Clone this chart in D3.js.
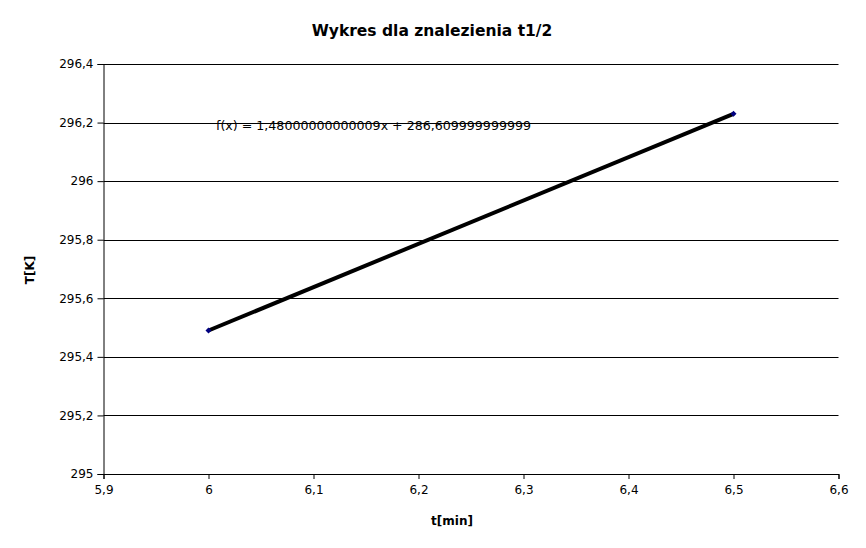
<!DOCTYPE html>
<html><head><meta charset="utf-8">
<script src="https://cdn.jsdelivr.net/npm/d3@7"></script>
<style>body{margin:0;background:#fff}svg{display:block}text{font-family:"DejaVu Sans",sans-serif}</style>
</head><body>
<script>
const xValues = [6, 6.5];
const yValues = [295.49, 296.23];
const xTicks = [5.9, 6, 6.1, 6.2, 6.3, 6.4, 6.5, 6.6];
const yTicks = [295, 295.2, 295.4, 295.6, 295.8, 296, 296.2, 296.4];
const slope = 1.48000000000009, intercept = 286.609999999999;
const titleText = "Wykres dla znalezienia t1/2";
const xLabel = "t[min]", yLabel = "T[K]";
const eqText = "f(x) = 1,48000000000009x + 286,609999999999";

const W = 866, H = 548;
const m = {l:103.5, r:838.5, t:64, b:474};
const svg = d3.select("body").append("svg").attr("width", W).attr("height", H);
const x = d3.scaleLinear().domain([5.9, 6.6]).range([m.l, m.r]);
const y = d3.scaleLinear().domain([295, 296.4]).range([m.b, m.t]);
const fmt = d => String(+d.toFixed(1)).replace(".", ",");

// gridlines
svg.append("g").selectAll("line").data(yTicks.slice(1)).join("line")
  .attr("x1", m.l).attr("x2", m.r).attr("y1", d => Math.round(y(d))+0.5).attr("y2", d => Math.round(y(d))+0.5)
  .attr("stroke", "#000").attr("stroke-width", 1);

const ya = svg.append("g").attr("transform", `translate(${m.l},0)`)
  .call(d3.axisLeft(y).tickValues(yTicks).tickFormat(fmt).tickSize(6).tickPadding(4).offset(0.5));
const xa = svg.append("g").attr("transform", `translate(0,${m.b})`)
  .call(d3.axisBottom(x).tickValues(xTicks).tickFormat(fmt).tickSize(5).tickPadding(6).offset(0.5));
[ya, xa].forEach(a => {
  a.select(".domain").attr("stroke", "#000");
  a.selectAll("line").attr("stroke", "#000");
  a.selectAll("text").attr("font-size", 12).attr("fill", "#000").attr("font-family", "DejaVu Sans");
});

// series line (thin navy) and trendline
const pts = xValues.map((v, i) => [v, yValues[i]]);
svg.append("path").datum(pts).attr("fill", "none").attr("stroke", "#000080").attr("stroke-width", 1)
  .attr("d", d3.line().x(d => x(d[0])).y(d => y(d[1])));
svg.append("path").datum(xValues.map(v => [v, slope*v + intercept])).attr("fill", "none")
  .attr("stroke", "#000").attr("stroke-width", 4)
  .attr("d", d3.line().x(d => x(d[0])).y(d => y(d[1])));
svg.append("g").selectAll("path").data(pts).join("path")
  .attr("transform", d => `translate(${x(d[0])},${y(d[1])})`)
  .attr("d", "M0,-3L3,0L0,3L-3,0Z").attr("fill", "#000080");

svg.append("text").attr("x", 216).attr("y", 130).attr("font-size", 12.5)
  .attr("textLength", 315).attr("lengthAdjust", "spacingAndGlyphs").text(eqText);

svg.append("text").attr("x", 432).attr("y", 36).attr("text-anchor", "middle")
  .attr("font-size", 15.5).attr("font-weight", "bold").text(titleText);
svg.append("text").attr("x", 452).attr("y", 525).attr("text-anchor", "middle")
  .attr("font-size", 12).attr("font-weight", "bold").text(xLabel);
svg.append("text").attr("transform", "translate(34,270) rotate(-90)").attr("text-anchor", "middle")
  .attr("font-size", 12).attr("font-weight", "bold").text(yLabel);
</script>
</body></html>
